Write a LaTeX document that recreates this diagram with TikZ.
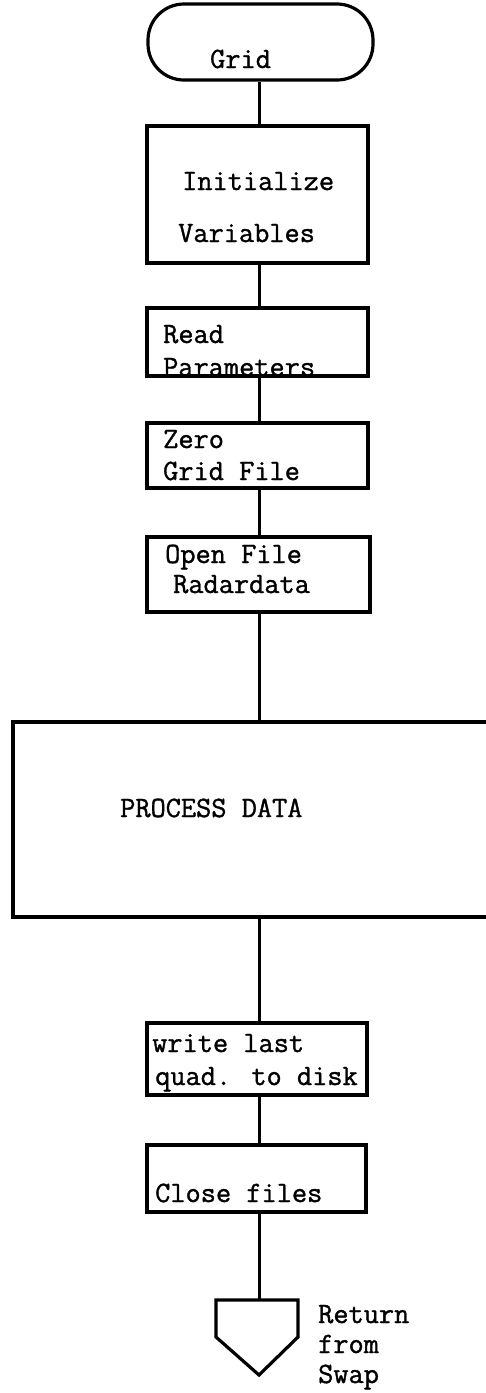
\documentclass[tikz,border=0pt]{standalone}
\usepackage{fontspec}
\newfontfamily\typer[FakeBold=1.2]{Latin Modern Mono}
\begin{document}
\begin{tikzpicture}[x=1pt,y=-1pt,
  flowbox/.style={draw=black, line width=3.2pt, rectangle, inner sep=0pt},
  txt/.style={font=\typer\fontsize{29.5}{29.5}\selectfont, anchor=base west, inner sep=0pt},
  link/.style={draw=black, line width=3pt}]
\useasboundingbox (0,0) rectangle (486,1393);
\clip (0,0) rectangle (486,1393);

% boxes of the flow chart
\node[flowbox, rounded corners=36pt, minimum width=225pt, minimum height=76pt] (term) at (260.5,42) {};
\node[flowbox, minimum width=221pt, minimum height=137pt] (init) at (257.5,194.5) {};
\node[flowbox, minimum width=221pt, minimum height=68pt] (read) at (257.5,342) {};
\node[flowbox, minimum width=221pt, minimum height=65pt] (zero) at (257.5,455.5) {};
\node[flowbox, minimum width=223pt, minimum height=75pt] (open) at (258.5,574.5) {};
\node[flowbox, minimum width=487pt, minimum height=195pt] (process) at (256.5,819.5) {};
\node[flowbox, minimum width=220pt, minimum height=72pt] (write) at (257,1059) {};
\node[flowbox, minimum width=219pt, minimum height=67pt] (close) at (256.5,1178.5) {};

% off-page connector
\coordinate (ret) at (259,1300);
\draw[line width=3.2pt, line join=miter] (216,1300) -- (298,1300) -- (298,1337) -- (259,1375) -- (216,1337) -- cycle;

% texts
\node[txt] (tgrid) at (210,68) {Grid};
\node[txt] (tinit1) at (182,190) {Initialize};
\node[txt] (tinit2) at (178,242) {Variables};
\node[txt] (tread1) at (163,343) {Read};
\node[txt] (tread2) at (163,376) {Parameters};
\node[txt] (tzero1) at (163,448) {Zero};
\node[txt] (tzero2) at (163,480) {Grid File};
\node[txt] (topen1) at (165,563) {Open File};
\node[txt] (topen2) at (173,593) {Radardata};
\node[txt] (tproc) at (120,817) {PROCESS DATA};
\node[txt] (twrite1) at (152,1052) {write last};
\node[txt] (twrite2) at (155,1085) {quad. to disk};
\node[txt] (tclose) at (155,1202) {Close files};
\node[txt] (tret1) at (318,1323) {Return};
\node[txt] (tret2) at (318,1353) {from};
\node[txt] (tret3) at (318,1383) {Swap};

% connectors
\coordinate (spine) at (259,0);
\draw[link] (term.south -| spine) -- (init.north -| spine);
\draw[link] (init.south -| spine) -- (read.north -| spine);
\draw[link] (read.south -| spine) -- (zero.north -| spine);
\draw[link] (zero.south -| spine) -- (open.north -| spine);
\draw[link] (open.south -| spine) -- (process.north -| spine);
\draw[link] (process.south -| spine) -- (write.north -| spine);
\draw[link] (write.south -| spine) -- (close.north -| spine);
\draw[link] (close.south -| spine) -- (ret);
\end{tikzpicture}
\end{document}
